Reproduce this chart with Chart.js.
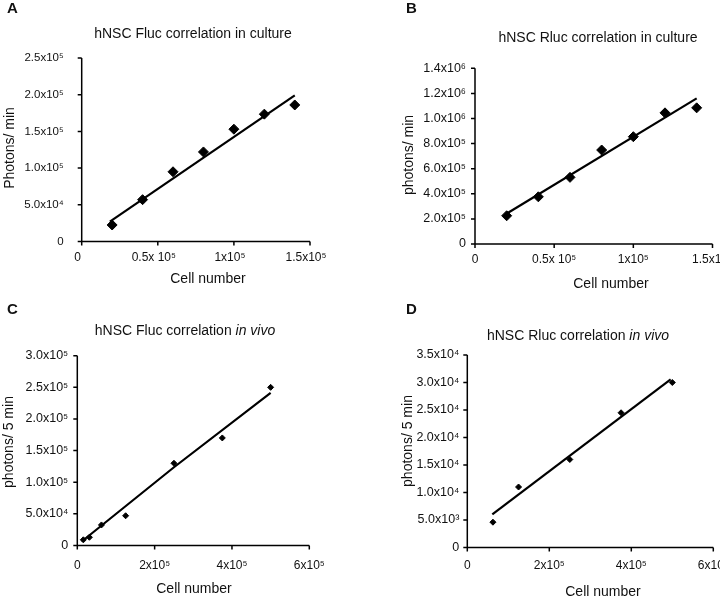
<!DOCTYPE html>
<html>
<head>
<meta charset="utf-8">
<script src="https://cdn.jsdelivr.net/npm/chart.js@4.4.0/dist/chart.umd.min.js"></script>
<style>
    html, body { margin: 0; padding: 0; background: #fff; }
    body { width: 720px; height: 596px; position: relative; overflow: hidden; font-family: "Liberation Sans", Arial, sans-serif; color: #111; }
    .box { position: absolute; }
    .txt { position: absolute; white-space: nowrap; font-size: 14px; transform: translate(-50%, -50%); }
    .rot { transform: translate(-50%, -50%) rotate(-90deg); }
    .letter { position: absolute; font-weight: bold; font-size: 15px; }
</style>
</head>
<body>
<div class="box" style="left:0px;top:0px"><canvas id="chartA" width="360" height="290"></canvas></div>
<div class="box" style="left:360px;top:0px"><canvas id="chartB" width="380" height="290"></canvas></div>
<div class="box" style="left:0px;top:290px"><canvas id="chartC" width="360" height="306"></canvas></div>
<div class="box" style="left:360px;top:290px"><canvas id="chartD" width="380" height="306"></canvas></div>

<div class="letter" style="left:7px;top:-1px">A</div>
<div class="letter" style="left:406px;top:-1px">B</div>
<div class="letter" style="left:7px;top:300px">C</div>
<div class="letter" style="left:406px;top:300px">D</div>

<div class="txt" style="left:193px;top:33px">hNSC Fluc correlation in culture</div>
<div class="txt" style="left:598px;top:37px">hNSC Rluc correlation in culture</div>
<div class="txt" style="left:185px;top:330px">hNSC Fluc correlation <i>in vivo</i></div>
<div class="txt" style="left:578px;top:335px">hNSC Rluc correlation <i>in vivo</i></div>

<div class="txt rot" style="left:9px;top:148px">Photons/ min</div>
<div class="txt rot" style="left:408px;top:155px">photons/ min</div>
<div class="txt rot" style="left:8px;top:442px">photons/ 5 min</div>
<div class="txt rot" style="left:407px;top:441px">photons/ 5 min</div>

<div class="txt" style="left:208px;top:278px">Cell number</div>
<div class="txt" style="left:611px;top:283px">Cell number</div>
<div class="txt" style="left:194px;top:588px">Cell number</div>
<div class="txt" style="left:603px;top:591px">Cell number</div>

<script>
// A - Fluc in culture
const cellsCulture = [20000, 40000, 60000, 80000, 100000, 120000, 140000];
const flucCulture = [22500, 57000, 95000, 122000, 153000, 173500, 186000];
const flucCultureFitX = [18500, 140000];
const flucCultureFitY = [27000, 199000];

// B - Rluc in culture
const rlucCulture = [225000, 376000, 531000, 749000, 855000, 1045000, 1085000];
const rlucCultureFitX = [19600, 140000];
const rlucCultureFitY = [239000, 1160000];

// C - Fluc in vivo
const cellsFlucVivo = [15625, 31250, 62500, 125000, 250000, 375000, 500000];
const flucVivo = [9000, 13000, 32500, 47000, 130000, 170000, 250000];
const flucVivoFitX = [11400, 250000, 500000];
const flucVivoFitY = [6300, 123700, 241300];

// D - Rluc in vivo
const cellsRlucVivo = [62500, 125000, 250000, 375000, 500000];
const rlucVivo = [4600, 11000, 16000, 24500, 30000];
const rlucVivoFitX = [61000, 496000];
const rlucVivoFitY = [6040, 30580];

// tick values and labels
const xTicksCulture = [0, 50000, 100000, 150000];
const xLabelsCulture = ["0", "0.5x 10\u2075", "1x10\u2075", "1.5x10\u2075"];
const xTicksVivo = [0, 200000, 400000, 600000];
const xLabelsVivo = ["0", "2x10\u2075", "4x10\u2075", "6x10\u2075"];

const yTicksA = [0, 50000, 100000, 150000, 200000, 250000];
const yLabelsA = ["0", "5.0x10\u2074", "1.0x10\u2075", "1.5x10\u2075", "2.0x10\u2075", "2.5x10\u2075"];
const yTicksB = [0, 200000, 400000, 600000, 800000, 1000000, 1200000, 1400000];
const yLabelsB = ["0", "2.0x10\u2075", "4.0x10\u2075", "6.0x10\u2075", "8.0x10\u2075", "1.0x10\u2076", "1.2x10\u2076", "1.4x10\u2076"];
const yTicksC = [0, 50000, 100000, 150000, 200000, 250000, 300000];
const yLabelsC = ["0", "5.0x10\u2074", "1.0x10\u2075", "1.5x10\u2075", "2.0x10\u2075", "2.5x10\u2075", "3.0x10\u2075"];
const yTicksD = [0, 5000, 10000, 15000, 20000, 25000, 30000, 35000];
const yLabelsD = ["0", "5.0x10\u00b3", "1.0x10\u2074", "1.5x10\u2074", "2.0x10\u2074", "2.5x10\u2074", "3.0x10\u2074", "3.5x10\u2074"];

function pairs(xs, ys) {
    return xs.map((x, i) => ({ x: x, y: ys[i] }));
}

// axis lines + outward tick marks, drawn last through the scales' pixel mapping
const axisLines = {
    id: "axisLines",
    afterDraw(chart) {
        const ctx = chart.ctx, a = chart.chartArea;
        const xs = chart.scales.x, ys = chart.scales.y;
        ctx.save();
        ctx.globalCompositeOperation = "source-over";
        ctx.setLineDash([]);
        ctx.strokeStyle = "#000";
        ctx.lineWidth = 1.5;
        ctx.beginPath();
        ctx.moveTo(a.left, a.top);
        ctx.lineTo(a.left, a.bottom);
        ctx.lineTo(a.right, a.bottom);
        xs.ticks.forEach(t => {
            let px = xs.getPixelForValue(t.value);
            ctx.moveTo(px, a.bottom);
            ctx.lineTo(px, a.bottom + 4);
        });
        ys.ticks.forEach(t => {
            let py = ys.getPixelForValue(t.value);
            ctx.moveTo(a.left, py);
            ctx.lineTo(a.left - 4, py);
        });
        ctx.stroke();
        ctx.restore();
    }
};

function axis(ticks, labels, extra) {
    return {
        type: "linear",
        min: ticks[0],
        max: ticks[ticks.length - 1],
        afterBuildTicks: s => { s.ticks = ticks.map(v => ({ value: v })); },
        afterFit: extra.fit,
        border: { display: false },
        grid: { display: false, drawTicks: true, tickLength: 4 },
        ticks: {
            color: "#111",
            font: { size: extra.fontSize },
            padding: extra.pad,
            labelOffset: extra.shift || 0,
            maxRotation: 0,
            autoSkip: false,
            callback: (v, i) => labels[i]
        }
    };
}

function panel(id, p) {
    new Chart(document.getElementById(id), {
        type: "scatter",
        data: {
            datasets: [
                {
                    data: p.points,
                    pointStyle: "rectRot",
                    pointRadius: p.radius,
                    backgroundColor: "#000",
                    borderColor: "#000",
                    borderWidth: 1
                },
                {
                    data: p.fit,
                    showLine: true,
                    pointRadius: 0,
                    borderColor: "#000",
                    borderWidth: 2.2,
                    fill: false
                }
            ]
        },
        options: {
            responsive: false,
            animation: false,
            devicePixelRatio: 1,
            layout: { padding: { top: p.top, right: p.right, left: 0, bottom: 0 } },
            plugins: { legend: { display: false }, tooltip: { enabled: false } },
            scales: {
                x: axis(p.xTicks, p.xLabels, { fit: s => { s.height = p.xHeight; }, fontSize: 12, pad: p.xPad, shift: p.xShift }),
                y: axis(p.yTicks, p.yLabels, { fit: s => { s.width = p.yWidth; }, fontSize: p.yFont, pad: p.yPad })
            }
        },
        plugins: [axisLines]
    });
}

Chart.defaults.font.family = "'Liberation Sans', Arial, sans-serif";

panel("chartA", {
    points: pairs(cellsCulture, flucCulture), fit: pairs(flucCultureFitX, flucCultureFitY), radius: 5,
    xTicks: xTicksCulture, xLabels: xLabelsCulture, yTicks: yTicksA, yLabels: yLabelsA,
    top: 58, right: 50, yWidth: 81.7, xHeight: 48.5, xPad: 5, xShift: -4, yPad: 14, yFont: 11.5
});
panel("chartB", {
    points: pairs(cellsCulture, rlucCulture), fit: pairs(rlucCultureFitX, rlucCultureFitY), radius: 5,
    xTicks: xTicksCulture, xLabels: xLabelsCulture, yTicks: yTicksB, yLabels: yLabelsB,
    top: 68.3, right: 27.5, yWidth: 115, xHeight: 46, xPad: 4, yPad: 5, yFont: 12.5
});
panel("chartC", {
    points: pairs(cellsFlucVivo, flucVivo), fit: pairs(flucVivoFitX, flucVivoFitY), radius: 3,
    xTicks: xTicksVivo, xLabels: xLabelsVivo, yTicks: yTicksC, yLabels: yLabelsC,
    top: 65.7, right: 50.7, yWidth: 77.3, xHeight: 50.5, xPad: 9, yPad: 5, yFont: 12.5
});
panel("chartD", {
    points: pairs(cellsRlucVivo, rlucVivo), fit: pairs(rlucVivoFitX, rlucVivoFitY), radius: 3,
    xTicks: xTicksVivo, xLabels: xLabelsVivo, yTicks: yTicksD, yLabels: yLabelsD,
    top: 65, right: 26.7, yWidth: 107.3, xHeight: 48.5, xPad: 7, yPad: 4, yFont: 12.5
});
</script>
</body>
</html>
